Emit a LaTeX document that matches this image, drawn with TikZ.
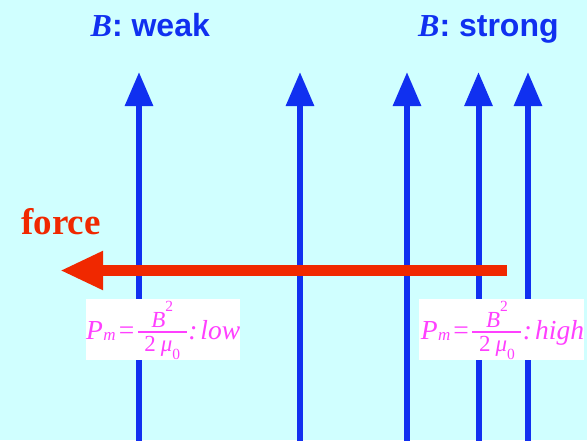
\documentclass[tikz,border=0pt]{standalone}
\usepackage{fontspec}
\setmainfont{Liberation Serif}
\newfontfamily\sansb{Liberation Sans}
\usetikzlibrary{arrows.meta}
\definecolor{bg}{RGB}{208,255,255}
\definecolor{fblue}{RGB}{16,48,240}
\definecolor{fred}{RGB}{240,40,0}
\definecolor{fmag}{RGB}{255,64,255}
\tikzset{
  fieldline/.style={draw=fblue, line width=6pt, -{Triangle[length=34pt,width=27pt]}},
  forcearrow/.style={draw=fred, line width=11pt, -{Triangle[length=43pt,width=36pt]}},
  title/.style={text=fblue, anchor=base west, inner sep=0pt, font=\fontsize{32}{36}\selectfont},
  formbox/.style={fill=white, text=fmag, inner sep=0pt, anchor=base west,
    text height=40pt, text depth=21pt, font=\fontsize{27.5}{30}\selectfont},
}
\newcommand{\midit}{\fontsize{23}{23}\selectfont}
\newcommand{\subit}{\fontsize{17}{17}\selectfont}
\newcommand{\tinyit}{\fontsize{15.5}{15.5}\selectfont}
\newcommand{\pmfrac}{%
  \rlap{\raisebox{11.7pt}{\makebox[49pt]{\midit\textit{B}\raisebox{16pt}{\tinyit 2}}}}%
  \rlap{\raisebox{-12.3pt}{\makebox[49pt]{\midit 2\hspace{5pt}\textit{μ}\raisebox{-8.4pt}{\tinyit 0}}}}%
  \rlap{\rule[6.4pt]{49pt}{1.3pt}}%
  \hspace{49pt}}
\newcommand{\pmform}[1]{\textit{P}\hspace{0.3pt}\raisebox{-1pt}{\subit\textit{m}}\hspace{3.2pt}=\hspace{3.5pt}\pmfrac\hspace{1.5pt}\textit{:\hspace{3pt}#1}}
\begin{document}
\begin{tikzpicture}[x=1pt,y=-1pt]
\useasboundingbox[fill=bg] (0,0) rectangle (587,440);
% field lines
\foreach \i/\x in {1/139,2/300,3/407,4/478.5,5/528}{
  \coordinate (b\i) at (\x,445);
  \coordinate (t\i) at (\x,72);
  \draw[fieldline] (b\i) -- (t\i);
}
% titles
\node[title] (weak) at (90.5,36) {{\bfseries\itshape B}{\sansb\bfseries: weak}};
\node[title] (strong) at (418,36) {{\bfseries\itshape B}{\sansb\bfseries: strong}};
% force
\node[text=fred, anchor=base west, inner sep=0pt, font=\bfseries\fontsize{37}{40}\selectfont] (force) at (21,234) {force};
\coordinate (fs) at (507,270.5);
\coordinate (fe) at (60,270.5);
\draw[forcearrow] (fs) -- (fe);
% pressure boxes
\node[formbox] (low) at (86,339) {\pmform{low}\hspace{1.3pt}};
\node[formbox] (high) at (419,339) {\hspace{1.7pt}\pmform{high}\hspace{3pt}};
\end{tikzpicture}
\end{document}
